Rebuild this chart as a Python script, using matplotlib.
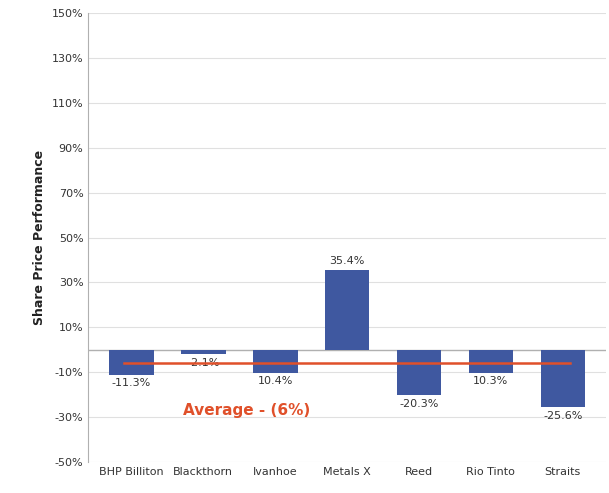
import numpy as np
import matplotlib.pyplot as plt

companies = ["BHP Billiton", "Blackthorn", "Ivanhoe", "Metals X", "Reed", "Rio Tinto", "Straits"]
performance = [-11.3, -2.1, -10.4, 35.4, -20.3, -10.3, -25.6]
value_labels = ["-11.3%", "-2.1%", "10.4%", "35.4%", "-20.3%", "10.3%", "-25.6%"]
average = -6
yticks = [-50, -30, -10, 10, 30, 50, 70, 90, 110, 130, 150]

fig = plt.figure(figsize=(6.09, 4.93), dpi=100)
ax = fig.add_axes([0.145, 0.063, 0.85, 0.91])

x = np.arange(len(companies))
ax.bar(x, performance, width=0.62, color="#3f58a0", zorder=3)
ax.axhline(0, color="#b0b0b0", lw=1, zorder=2)

for xi, v, lab in zip(x, performance, value_labels):
    if v >= 0:
        ax.text(xi, v + 2, lab, ha="center", va="bottom", fontsize=8, color="#333333")
    else:
        ax.text(xi, v - 1.5, lab, ha="center", va="top", fontsize=8, color="#333333")

ax.plot([x[0] - 0.1, x[-1] + 0.1], [average, average], color="#e0502a", lw=1.8, zorder=4)
ax.text(1.6, -27, "Average - (6%)", color="#e0502a", fontsize=11, fontweight="bold",
        ha="center", va="center")

ax.set_xlim(-0.6, len(companies) - 0.4)
ax.set_ylim(-50, 150)
ax.set_yticks(yticks)
ax.set_yticklabels([f"{t}%" for t in yticks], fontsize=8, color="#333333")
ax.set_xticks(x)
ax.set_xticklabels(companies, fontsize=8, color="#333333")
ax.tick_params(length=0)
ax.grid(axis="y", color="#e0e0e0", lw=0.8, zorder=0)
for s in ["top", "right", "bottom"]:
    ax.spines[s].set_visible(False)
ax.spines["left"].set_color("#b0b0b0")
ax.set_ylabel("Share Price Performance", fontsize=9, fontweight="bold", color="#222222")

fig.savefig("out.png", dpi=100)
